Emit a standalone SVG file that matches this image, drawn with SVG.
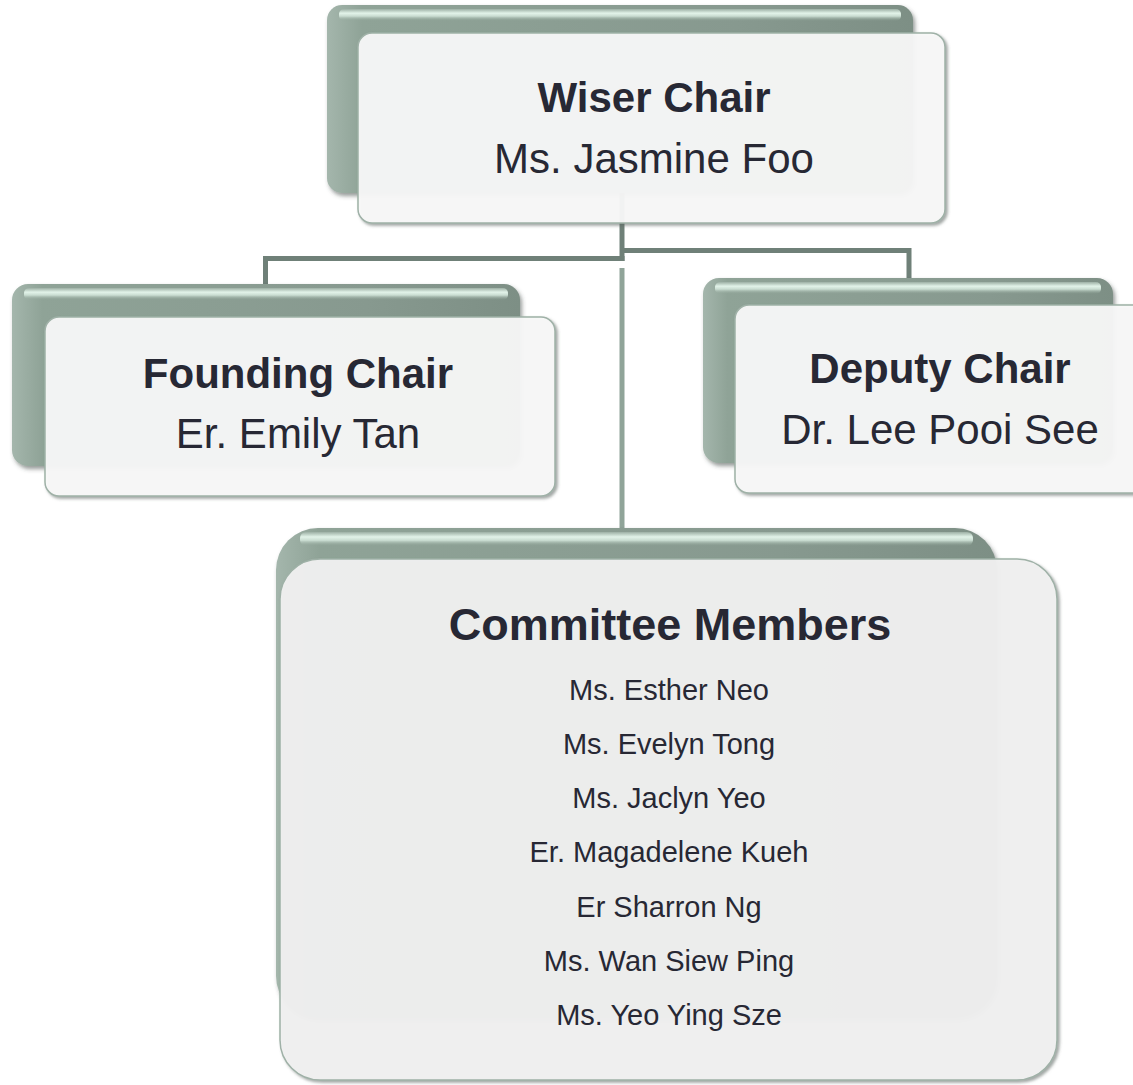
<svg xmlns="http://www.w3.org/2000/svg" width="1133" height="1085" viewBox="0 0 1133 1085">
<defs>
<linearGradient id="backG" x1="0" y1="0" x2="1" y2="0">
<stop offset="0" stop-color="#a4b6ac"/>
<stop offset="0.06" stop-color="#8fa397"/>
<stop offset="0.7" stop-color="#87998f"/>
<stop offset="1" stop-color="#7d8f85"/>
</linearGradient>
<linearGradient id="hlG" x1="0" y1="0" x2="0" y2="1">
<stop offset="0" stop-color="#9db0a5"/>
<stop offset="0.35" stop-color="#e2f3e9"/>
<stop offset="0.6" stop-color="#c9dcd1"/>
<stop offset="1" stop-color="#8fa397" stop-opacity="0"/>
</linearGradient>
<filter id="sh" x="-5%" y="-5%" width="112%" height="115%">
<feDropShadow dx="2" dy="3" stdDeviation="2" flood-color="#3c4a43" flood-opacity="0.55"/>
</filter>
<filter id="sh2" x="-5%" y="-5%" width="112%" height="115%">
<feDropShadow dx="2" dy="2" stdDeviation="1.5" flood-color="#5a6660" flood-opacity="0.6"/>
</filter>
</defs>
<style>
.back{fill:url(#backG);filter:url(#sh)}
.hl{fill:url(#hlG)}
.front{fill:#fafafa;fill-opacity:0.93;stroke:#9fb1a7;stroke-width:1.5;filter:url(#sh2)}
.frontc{fill:#f1f1f1;fill-opacity:0.95;stroke:#9fb1a7;stroke-width:1.5;filter:url(#sh2)}
.t{font-family:"Liberation Sans",Arial,sans-serif;fill:#272834;text-anchor:middle}
.b{font-weight:bold}
.conn{fill:none;stroke:#6f8078;stroke-width:5}
.conn2{fill:none;stroke:#90a499;stroke-width:5}
</style>

<g id="connectors">
<path class="conn" d="M622,193 V261"/>
<path class="conn" d="M624.5,258.5 H265.5 V284"/>
<path class="conn" d="M622,250.5 H909 V278"/>
<path class="conn2" d="M622,268 V528"/>
</g>

<g id="wiser-chair">
<rect class="back" x="327" y="5" width="586" height="188" rx="15"/>
<rect class="hl" x="339" y="9" width="562" height="12" rx="5"/>
<rect class="front" x="358" y="33" width="587" height="190" rx="14"/>
<text class="t b" x="654" y="112" font-size="42">Wiser Chair</text>
<text class="t" x="654" y="173" font-size="42">Ms. Jasmine Foo</text>
</g>

<g id="founding-chair">
<rect class="back" x="12" y="284" width="508" height="182" rx="16"/>
<rect class="hl" x="24" y="288" width="484" height="12" rx="5"/>
<rect class="front" x="45" y="317" width="510" height="179" rx="14"/>
<text class="t b" x="298" y="388" font-size="42">Founding Chair</text>
<text class="t" x="298" y="448" font-size="42">Er. Emily Tan</text>
</g>

<g id="deputy-chair">
<rect class="back" x="703" y="278" width="410" height="185" rx="16"/>
<rect class="hl" x="715" y="282" width="386" height="12" rx="5"/>
<rect class="front" x="735" y="305" width="420" height="188" rx="14"/>
<text class="t b" x="940" y="383" font-size="42">Deputy Chair</text>
<text class="t" x="940" y="444" font-size="42">Dr. Lee Pooi See</text>
</g>

<g id="committee-members">
<rect class="back" x="276" y="528" width="721" height="490" rx="42"/>
<rect class="hl" x="300" y="532" width="673" height="14" rx="6"/>
<rect class="frontc" x="280" y="559" width="777" height="521" rx="40"/>
<text class="t b" x="670" y="640" font-size="45">Committee Members</text>
<text class="t" x="669" y="700" font-size="29">Ms. Esther Neo</text>
<text class="t" x="669" y="754" font-size="29">Ms. Evelyn Tong</text>
<text class="t" x="669" y="808" font-size="29">Ms. Jaclyn Yeo</text>
<text class="t" x="669" y="862" font-size="29">Er. Magadelene Kueh</text>
<text class="t" x="669" y="917" font-size="29">Er Sharron Ng</text>
<text class="t" x="669" y="971" font-size="29">Ms. Wan Siew Ping</text>
<text class="t" x="669" y="1025" font-size="29">Ms. Yeo Ying Sze</text>
</g>
</svg>
